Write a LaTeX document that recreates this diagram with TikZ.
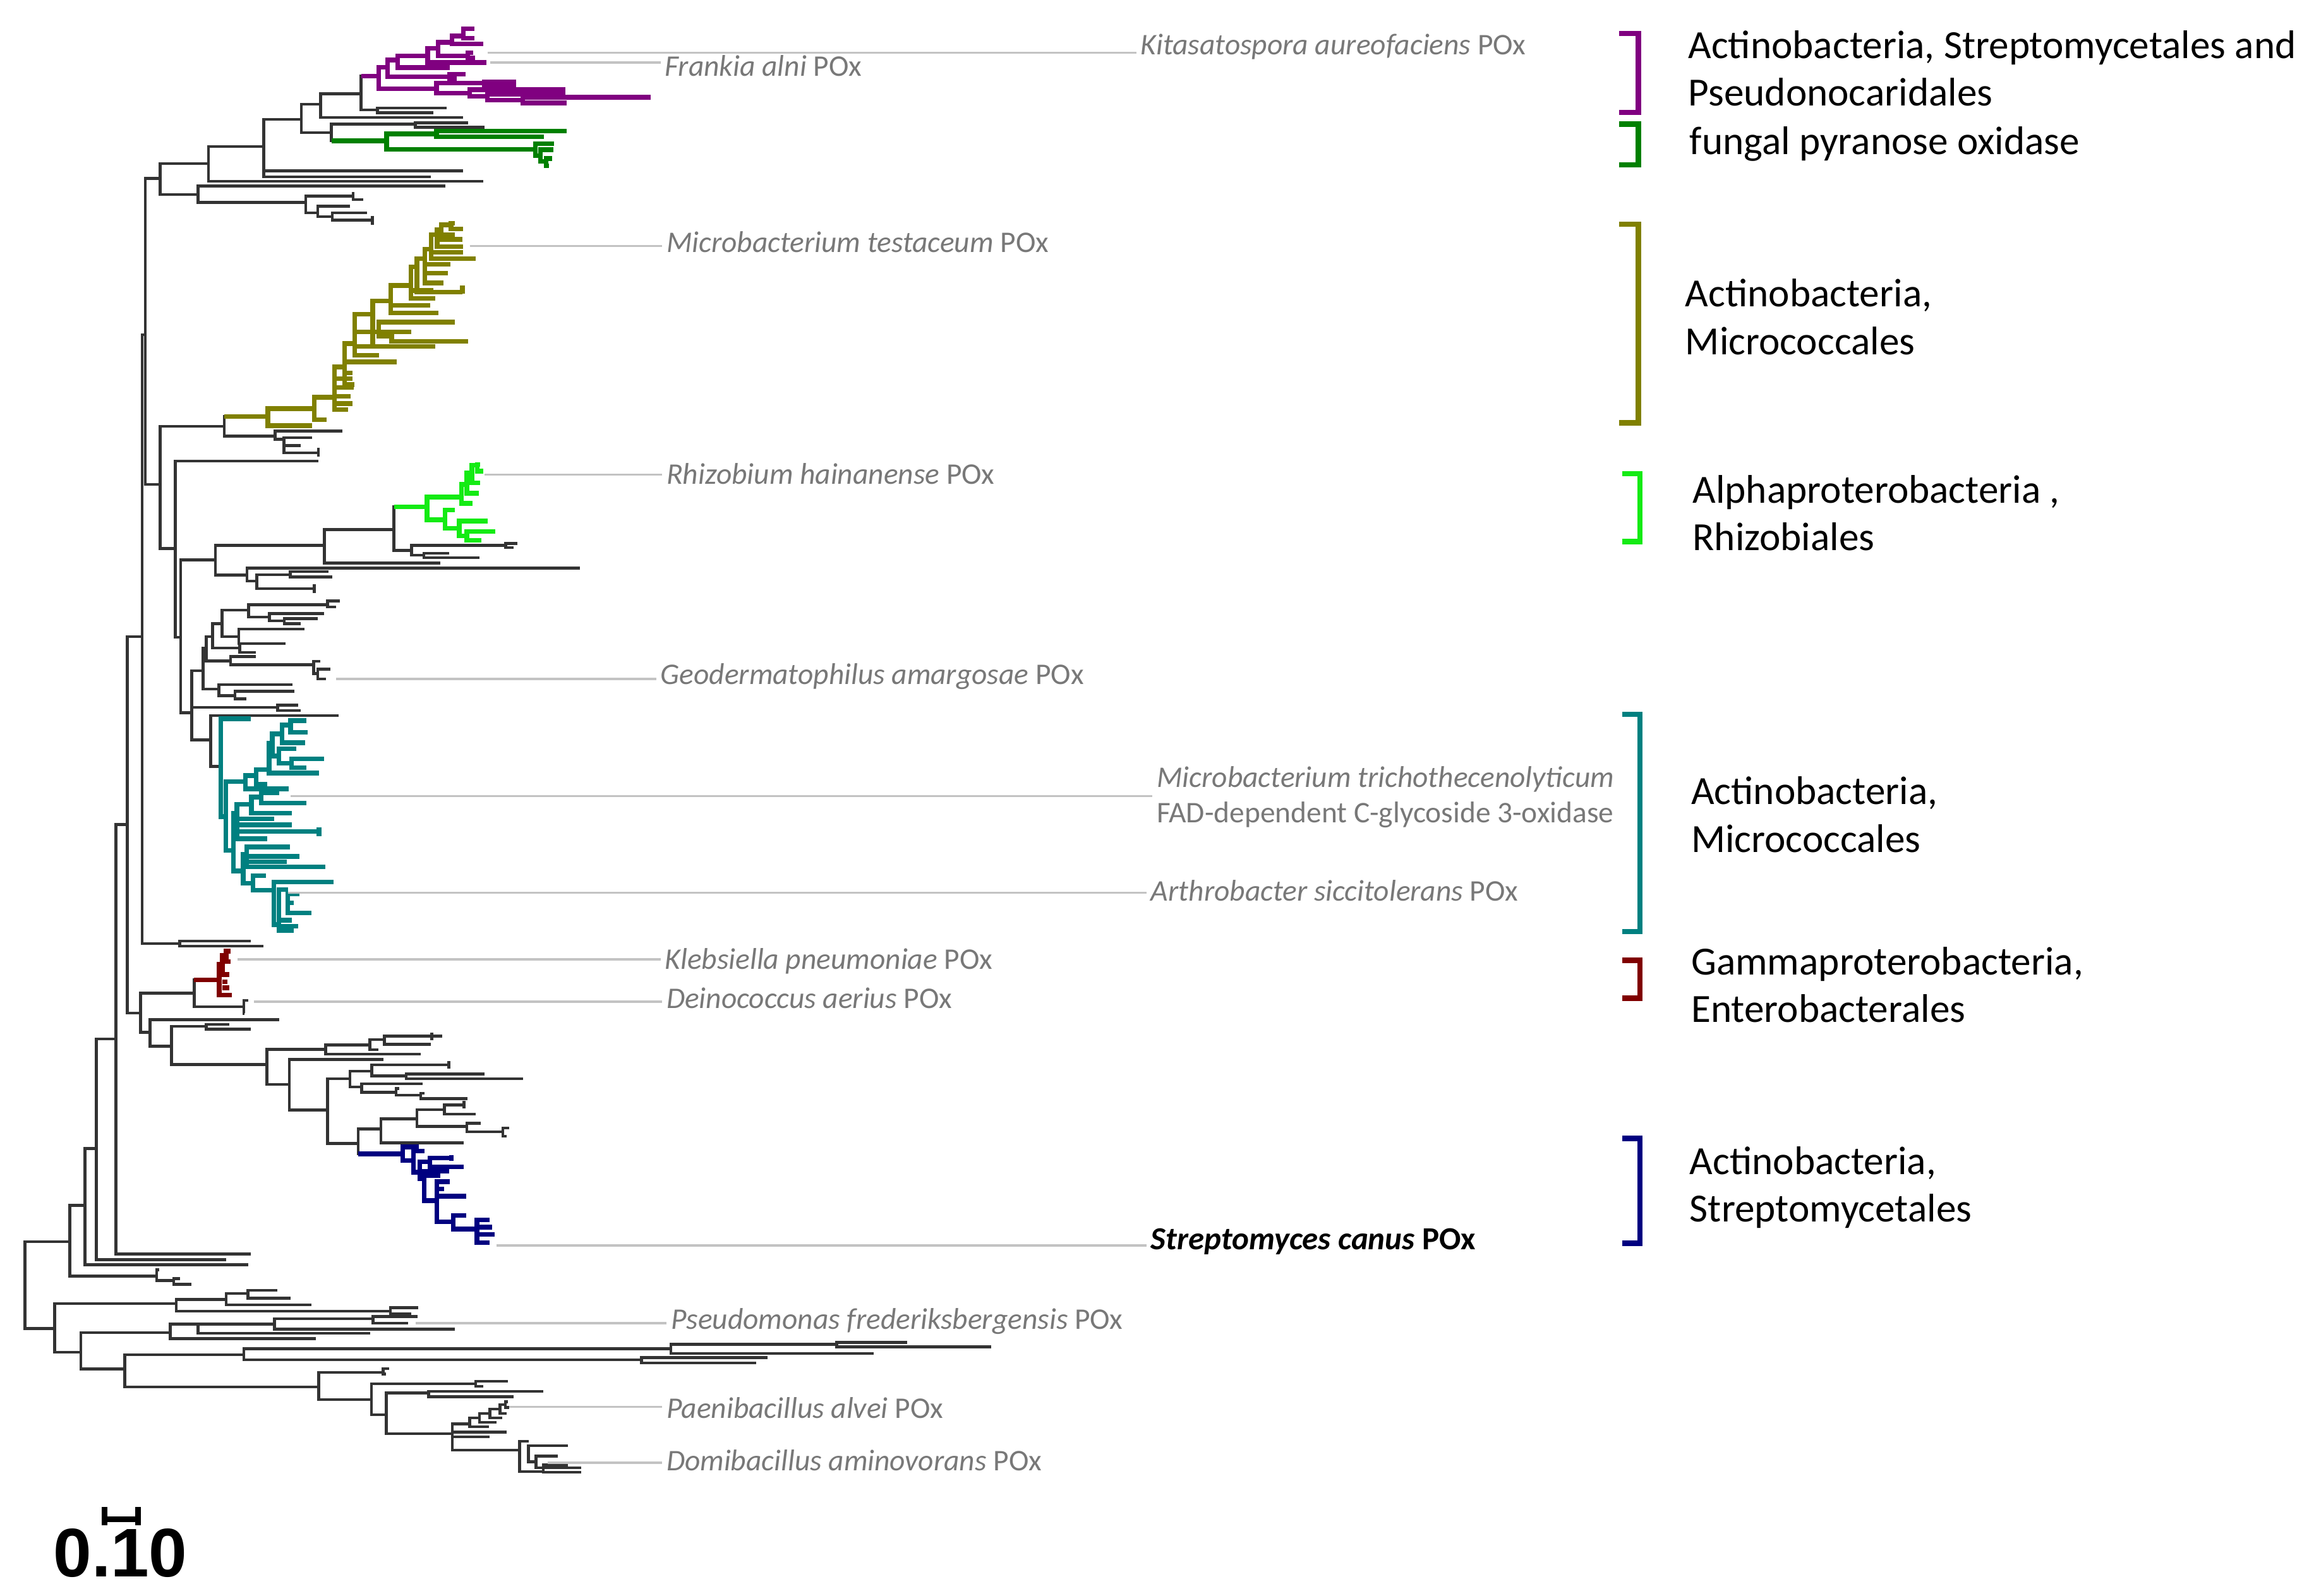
\documentclass[tikz,border=0pt]{standalone}
\usepackage{fontspec}
\setmainfont{Carlito}
\newfontfamily\barfont{Liberation Sans}
\usepackage{tikz}
\usetikzlibrary{calc}

\definecolor{cPurple}{RGB}{128,0,128}
\definecolor{cFungal}{RGB}{0,128,0}
\definecolor{cOlive}{RGB}{128,128,0}
\definecolor{cLime}{RGB}{20,235,20}
\definecolor{cTeal}{RGB}{0,128,128}
\definecolor{cRed}{RGB}{128,0,0}
\definecolor{cNavy}{RGB}{0,0,128}
\definecolor{cLeader}{RGB}{195,195,195}
\definecolor{cLabel}{RGB}{120,120,120}

% elbow of one clade: {x}{y top}{x top}{y bottom}{x bottom}
\newcommand{\clade}[5]{\draw (#3,#2) -| (#1,#4) -- (#5,#4);}

\begin{document}
\begin{tikzpicture}[x=0.2324mm,y=-0.2324mm,line width=1.3pt,draw=black!80,
  col/.style={draw=#1,line width=2.1pt},
  leaf/.style={anchor=west,inner sep=0pt,text=cLabel,font=\fontsize{13.5}{16}\selectfont},
  leader/.style={draw=cLeader,line width=1pt},
  group/.style={anchor=west,inner sep=0pt,align=left,font=\fontsize{18}{21.5}\selectfont},
  brk/.style={draw=#1,line width=2.4pt}]
\useasboundingbox (0,0) rectangle (1568,1087);

% backbone
\clade{17}{846}{47.6}{905}{37.3}
\clade{47.6}{821.2}{57.8}{869.4}{106.8}
\clade{106.8}{865}{108.5}{872.5}{118.3}
\clade{118.3}{871}{122.6}{875}{130.5}
\clade{57.8}{782.6}{65.7}{861.7}{169}
\clade{65.7}{707.8}{78.9}{858.3}{154.2}
\clade{78.9}{561.7}{86.8}{854.4}{171}
\clade{86.8}{433.8}{96.8}{690.2}{95.8}
\clade{96.8}{228}{98.9}{642.9}{122.3}
\clade{122.3}{641.2}{170.8}{644.5}{179.6}
\clade{98.9}{121.5}{109}{330.1}{109.2}

% upper part
\clade{109}{111.4}{142}{132.5}{135}
\clade{142}{99.9}{179.6}{123.5}{329}
\clade{179.6}{81.3}{205.3}{120.5}{293.4}
\draw (179.6,116.5) -- (315.5,116.5);
\clade{205.3}{71}{218.3}{90.3}{225.8}
\clade{218.3}{64}{246}{80.1}{315.5}
\clade{246}{51.9}{258}{74.9}{257.2}
\clade{257.2}{73.6}{304.3}{76.8}{295.3}
\clade{225.8}{84.5}{282.9}{96}{263.3}
\clade{282.9}{83.6}{319}{86.8}{330}
\clade{135}{126.8}{303.4}{137.9}{208.3}
\clade{208.3}{133.5}{240.6}{145}{216.5}
\clade{240.6}{131}{240.6}{136}{247.5}
\clade{216.5}{140.5}{238.5}{147.5}{226.4}
\clade{226.4}{145}{250}{150}{253.6}
\draw (253.6,147) -- (253.6,153);

\begin{scope}[col=cPurple]
\draw (246,51.9) -- (258,51.9);
\clade{258}{45.7}{264}{60.5}{297.4}
\clade{264}{40.9}{271}{52.3}{306.4}
\clade{271}{38}{291.3}{46.1}{306.4}
\clade{291.3}{33}{298.3}{42.6}{331.2}
\clade{298.3}{28.8}{308}{38}{318.5}
\clade{308}{24.5}{315.5}{29.8}{329}
\clade{315.5}{19.5}{323}{26}{323}
\clade{318.5}{36}{322.4}{39.5}{323.6}
\clade{306.4}{50.5}{317}{53.8}{311}
\clade{297.4}{56.5}{330}{63.4}{320}
\clade{330}{55.7}{351.7}{57.6}{351.7}
\clade{320}{61.1}{385}{65.7}{332}
\clade{332}{64.4}{385}{68.2}{356}
\clade{356}{66.3}{443}{70.1}{385.8}
\end{scope}

\begin{scope}[col=cFungal]
\draw (225.8,96) -- (263.3,96);
\clade{263.3}{91.2}{297.4}{101.8}{364.7}
\clade{297.4}{89.3}{385.8}{93.2}{370.4}
\clade{364.7}{98}{377.4}{106}{368}
\clade{368}{102}{377}{110}{372}
\clade{372}{108}{376}{113}{374}
\end{scope}

% middle part
\clade{109.2}{290.4}{152.8}{373.8}{119.4}
\clade{152.8}{283.8}{182.5}{297}{187.4}
\clade{187.4}{293.7}{233.2}{299.2}{193.5}
\clade{193.5}{298.1}{212.7}{308.6}{216.8}
\draw (193.5,303.5) -- (205,303.5);
\draw (216.8,305) -- (216.8,311);

\begin{scope}[col=cOlive]
\draw (152.8,283.8) -- (182.5,283.8);
\clade{182.5}{278.4}{214}{290}{212.7}
\clade{214}{270.7}{227.8}{286}{222.3}
\clade{227.8}{250}{234.6}{279}{237}
\draw (227.8,258) -- (240,258) (227.8,264) -- (241,264) (227.8,270) -- (239,270) (227.8,275) -- (240,275);
\clade{234.6}{234}{241.5}{262}{241.5}
\draw (234.6,246.5) -- (270.3,246.5) (234.6,254) -- (240,254);
\clade{241.5}{214}{253.8}{242}{258}
\draw (241.5,226) -- (271.7,226) (241.5,236) -- (262,236);
\clade{253.8}{205}{266.2}{236}{296.4}
\clade{258}{219.5}{310}{229}{266.7}
\clade{266.7}{226}{280}{232.5}{318.9}
\clade{266.2}{194.5}{279.9}{213.2}{298.5}
\draw (266.2,208) -- (293,208);
\clade{279.9}{181.8}{284}{203.3}{296.4}
\draw (279.9,198) -- (295,198);
\clade{284}{176.3}{289.5}{198.9}{315}
\draw (315,194.5) -- (315,200);
\clade{289.5}{169.7}{293.6}{192.8}{302}
\draw (289.5,186) -- (305,186) (289.5,180) -- (307,180);
\clade{293.6}{159.8}{297.7}{176.3}{323.8}
\draw (293.6,172) -- (315.6,172);
\clade{297.7}{156.5}{300.5}{168}{315.6}
\draw (297.7,163) -- (315,163);
\clade{300.5}{153.2}{307.3}{160}{310}
\clade{307.3}{152}{310}{156}{315.6}
\end{scope}

\clade{119.4}{314.1}{216.8}{434.2}{123}
\clade{123}{381.5}{146.8}{485.7}{130.5}
\clade{146.8}{371.6}{220.9}{391.8}{168.2}
\clade{220.9}{360.7}{268.4}{383.7}{299.7}
\clade{268.4}{345.3}{290.9}{374.9}{280.4}
\clade{280.4}{371.6}{344.4}{378.2}{288.7}
\clade{344.4}{370.3}{352.6}{373}{350}
\clade{288.7}{377}{306}{380}{326.5}
\clade{168.2}{387}{395.1}{395.8}{174.8}
\clade{174.8}{391.5}{197.6}{401}{214}
\clade{197.6}{389.5}{223.6}{393}{226.4}
\draw (214,398) -- (214,404);

\begin{scope}[col=cLime]
\draw (268.4,345.3) -- (290.9,345.3);
\clade{290.9}{338.7}{314.2}{354.1}{303.2}
\clade{314.2}{330}{318}{343}{322}
\clade{318}{322}{321.5}{336}{326}
\clade{321.5}{317}{325}{329}{327}
\clade{325}{316.5}{327}{321}{329}
\clade{303.2}{347.5}{310}{360}{312.8}
\clade{312.8}{355}{332}{365.1}{318}
\clade{318}{362}{337.5}{368}{328}
\end{scope}

% black group around Geodermatophilus
\clade{130.5}{456.9}{138.4}{504.1}{143.4}
\draw (130.5,482) -- (189,482);
\clade{189}{480.5}{203}{484}{205}
\clade{138.4}{441.5}{140.5}{469.5}{149.1}
\clade{140.5}{433.8}{144.8}{450.3}{157}
\clade{144.8}{424.9}{151.3}{441.5}{163.4}
\clade{151.3}{415.7}{169.2}{433.8}{162.7}
\clade{169.2}{411.9}{223}{420.3}{183.5}
\clade{223}{409.5}{231.6}{413.5}{229}
\clade{183.5}{418}{220.8}{423}{193.6}
\clade{193.6}{421.5}{216.5}{425}{205}
\clade{162.7}{428.5}{207.2}{438.5}{174.2}
\clade{163.4}{438.5}{194.3}{444.5}{174.2}
\clade{157}{447.2}{174.2}{453}{213.6}
\clade{213.6}{450.5}{218}{459}{216.5}
\clade{216.5}{456}{225}{462.5}{222}
\clade{149.1}{466.5}{199.3}{474}{160}
\clade{160}{471}{200.7}{476}{167.7}
\clade{143.4}{487.6}{230.8}{522.2}{150.4}

\begin{scope}[col=cTeal]
\clade{150.4}{489.7}{170.8}{556.4}{153.7}
\clade{153.7}{532.5}{167.3}{579.4}{159.1}
\clade{167.3}{528.4}{174.5}{537.4}{196.5}
\clade{174.5}{524.3}{183.3}{534.2}{182}
\clade{183.3}{506.2}{185.5}{526.7}{217.3}
\clade{185.5}{500}{192}{515}{190}
\clade{192}{494}{198}{506}{208}
\clade{198}{491}{208.5}{499}{209.6}
\clade{190}{510}{202}{520}{198.6}
\clade{198.6}{517}{220.6}{523}{208.5}
\clade{159.1}{553.9}{161.3}{593.4}{165.7}
\clade{161.3}{548}{171.2}{571.5}{182.2}
\clade{171.2}{543}{178}{554}{198.6}
\clade{178}{540}{190}{547}{208.5}
\draw (161.3,558) -- (186.6,558) (161.3,562) -- (198.6,562) (161.3,566.5) -- (217.3,566.5);
\draw (217.3,563.5) -- (217.3,569.5);
\clade{165.7}{581.9}{167.9}{601.7}{172.3}
\clade{167.9}{577}{197.6}{590.5}{221.7}
\draw (167.9,583.5) -- (204.1,583.5) (167.9,587) -- (195.4,587);
\clade{172.3}{596.7}{181}{606.6}{186.6}
\clade{186.6}{600.9}{227.2}{630}{190}
\clade{190}{606}{196}{634}{200}
\clade{196}{609}{204}{622}{212}
\draw (196,615) -- (200,615) (190,627) -- (199,627) (190,631) -- (203,631);
\end{scope}

% lower part
\clade{95.8}{676.7}{132.2}{703.2}{102.2}
\clade{132.2}{667.7}{149.3}{685.8}{166}
\clade{166}{681.5}{169}{690.5}{166.5}
\clade{102.2}{694.6}{190}{712.7}{116.9}
\clade{116.9}{699.2}{140.5}{725.3}{181.8}
\clade{140.5}{697.9}{156.3}{701.1}{171}

\begin{scope}[col=cRed]
\draw (132.2,667.7) -- (149.3,667.7);
\clade{149.3}{657}{151.5}{678}{158}
\clade{151.5}{651}{154}{664}{156}
\clade{154}{648}{157}{655}{157}
\draw (151.5,669) -- (155,669) (151.5,673) -- (156,673);
\end{scope}

\clade{181.8}{714.9}{221.8}{738.8}{197.1}
\clade{221.8}{711.8}{252}{718.2}{286.5}
\clade{252}{708.2}{261.8}{715.1}{257.6}
\clade{261.8}{706}{294}{711.5}{293.4}
\draw (294,703.5) -- (294,708.5) (294,706) -- (301,706);
\clade{197.1}{721.8}{261}{756.3}{223}
\clade{223}{735}{238.4}{779}{244}
\clade{238.4}{729.7}{253.2}{740.5}{246.3}
\clade{253.2}{725.4}{305.8}{732.9}{276.6}
\draw (305.8,723) -- (305.8,728);
\clade{276.6}{731.6}{330.2}{735}{356.2}
\clade{246.3}{738.3}{287.8}{744.1}{269.7}
\clade{269.7}{741.6}{272}{746.2}{286.5}
\clade{286.5}{744.8}{289}{748.4}{318.6}
\clade{244}{769.2}{259.4}{786.1}{274.2}
\clade{259.4}{762.3}{284}{778.5}{315.7}
\clade{284}{756}{302.6}{767.5}{318}
\clade{302.6}{752.7}{316}{759.1}{324}
\draw (316,750) -- (316,755);
\clade{318}{765.2}{327.3}{771.1}{342.6}
\clade{342.6}{768.5}{347}{774}{345}

\begin{scope}[col=cNavy]
\draw (244,786.1) -- (274.2,786.1);
\clade{274.2}{781.4}{285.3}{790.7}{281.6}
\clade{281.6}{784.3}{289}{798.6}{286}
\clade{286}{791.5}{292.7}{803}{289}
\clade{292.7}{789}{307.5}{795}{315.7}
\draw (307.5,787) -- (307.5,791);
\clade{289}{797.9}{306}{818}{297.6}
\draw (289,801) -- (300,801);
\clade{297.6}{805}{306.3}{832.4}{308.8}
\draw (297.6,810) -- (302.6,810) (297.6,815) -- (317.4,815);
\clade{308.8}{828}{317.4}{837.4}{324.8}
\clade{324.8}{831}{333.5}{846.7}{333.5}
\draw (324.8,836) -- (335,836) (324.8,841) -- (337,841);
\end{scope}

% bottom clade
\clade{37.3}{888.2}{120}{921.2}{55}
\clade{120}{885.2}{154}{893.3}{266}
\clade{154}{881.3}{169}{889}{212}
\clade{169}{879}{189}{884.5}{198}
\clade{266}{891}{285}{895}{280}
\clade{55}{908}{116}{932.6}{85}
\clade{116}{902}{135}{911.9}{215}
\clade{135}{902}{187}{908.3}{252}
\clade{187}{898.5}{254}{905.5}{310}
\clade{254}{897}{284.6}{901.5}{278}
\clade{85}{923}{166}{945}{217}
\clade{166}{918.8}{457}{926.4}{437}
\clade{457}{915.9}{570}{922.1}{595}
\clade{570}{914.5}{618}{917.5}{675}
\clade{437}{925}{523}{928.6}{515}
\clade{217}{935}{261}{953.6}{253}
\clade{261}{932.5}{265}{936}{263}
\clade{253}{942.7}{324}{963.9}{263}
\clade{324}{941}{346}{944.5}{329}
\clade{263}{949}{292}{976.8}{308}
\clade{292}{948}{370}{951.5}{350}
\clade{308}{970}{320}{988}{354}
\draw (308,975.6) -- (345,975.6) (308,978.9) -- (333.6,978.9);
\clade{320}{966}{326.6}{972}{333}
\clade{326.6}{963}{333.6}{969}{338}
\clade{333.6}{960}{340.6}{966}{342}
\clade{340.6}{957}{344.3}{963}{345}
\clade{344.3}{955}{346}{959}{347}
\clade{354}{982}{360}{1002.6}{370}
\clade{360}{985}{387}{996}{365}
\clade{365}{992}{380}{1000}{396}
\clade{370}{998}{387}{1003}{396}

% leaf labels
\coordinate (kitaT) at (332,36);
\coordinate (frankT) at (334,42.6);
\coordinate (mtestT) at (320,167.5);
\coordinate (rhizoT) at (330,323.4);
\coordinate (geoT) at (229,462.5);
\coordinate (mtriT) at (198,542.4);
\coordinate (arthT) at (196,608.3);
\coordinate (klebT) at (162,653.6);
\coordinate (deinoT) at (173,682.4);
\coordinate (scanT) at (338,848.6);
\coordinate (pseudoT) at (283,901.4);
\coordinate (paeniT) at (347,958.4);
\coordinate (domiT) at (373,996.6);

\node[leaf] (kita) at (776,32) {\textit{Kitasatospora aureofaciens} POx};
\node[leaf] (frank) at (452,45) {\textit{Frankia alni} POx};
\node[leaf] (mtest) at (453,165) {\textit{Microbacterium testaceum} POx};
\node[leaf] (rhizo) at (453,323) {\textit{Rhizobium hainanense} POx};
\node[leaf] (geo) at (449,461) {\textit{Geodermatophilus amargosae} POx};
\node[leaf,align=left] (mtri) at (787,543) {\textit{Microbacterium trichothecenolyticum}\\FAD-dependent C-glycoside 3-oxidase};
\node[leaf] (arth) at (783,607) {\textit{Arthrobacter siccitolerans} POx};
\node[leaf] (kleb) at (452,655) {\textit{Klebsiella pneumoniae} POx};
\node[leaf] (deino) at (453,680) {\textit{Deinococcus aerius} POx};
\node[leaf,text=black,font=\fontsize{14.5}{17}\selectfont\bfseries] (scan) at (783,846) {\textit{Streptomyces canus} POx};
\node[leaf] (pseudo) at (456,900) {\textit{Pseudomonas frederiksbergensis} POx};
\node[leaf] (paeni) at (453,959) {\textit{Paenibacillus alvei} POx};
\node[leaf] (domi) at (453,995) {\textit{Domibacillus aminovorans} POx};

\foreach \t in {kita,frank,mtest,rhizo,geo,mtri,arth,kleb,deino,scan,pseudo,paeni,domi}
  \draw[leader] (\t T) -- ($(\t T -| \t.west)+(-2,0)$);

% group brackets and names
\draw[brk=cPurple] (1103,22.7) -- (1116,22.7) -- (1116,76.5) -- (1103,76.5);
\draw[brk=cFungal] (1103,84.5) -- (1116,84.5) -- (1116,112.4) -- (1103,112.4);
\draw[brk=cOlive] (1103,152.7) -- (1116,152.7) -- (1116,288.1) -- (1103,288.1);
\draw[brk=cLime] (1105,322.6) -- (1117,322.6) -- (1117,369) -- (1105,369);
\draw[brk=cTeal] (1105,486.7) -- (1117,486.7) -- (1117,634.7) -- (1105,634.7);
\draw[brk=cRed] (1105,654.3) -- (1117,654.3) -- (1117,680) -- (1105,680);
\draw[brk=cNavy] (1105,775.6) -- (1117,775.6) -- (1117,847) -- (1105,847);

\node[group] (gStrep1) at (1149,46.5) {Actinobacteria, Streptomycetales and\\Pseudonocaridales};
\node[group] (gFungal) at (1150,98) {fungal pyranose oxidase};
\node[group] (gMicro1) at (1147,216) {Actinobacteria,\\Micrococcales};
\node[group] (gRhizo) at (1152,349.5) {Alphaproterobacteria ,\\Rhizobiales};
\node[group] (gMicro2) at (1151,555) {Actinobacteria,\\Micrococcales};
\node[group] (gEntero) at (1151,671) {Gammaproterobacteria,\\Enterobacterales};
\node[group] (gStrep2) at (1150,809) {Actinobacteria,\\Streptomycetales};

% scale bar
\draw[line width=2.6pt,draw=black] (71.3,1026.7) -- (71.3,1039) (71.3,1035) -- (93.9,1035) (93.9,1026.7) -- (93.9,1039);
\node[inner sep=0pt,font=\barfont\bfseries\fontsize{31}{31}\selectfont] (sbar) at (82,1058) {0.10};
\end{tikzpicture}
\end{document}
